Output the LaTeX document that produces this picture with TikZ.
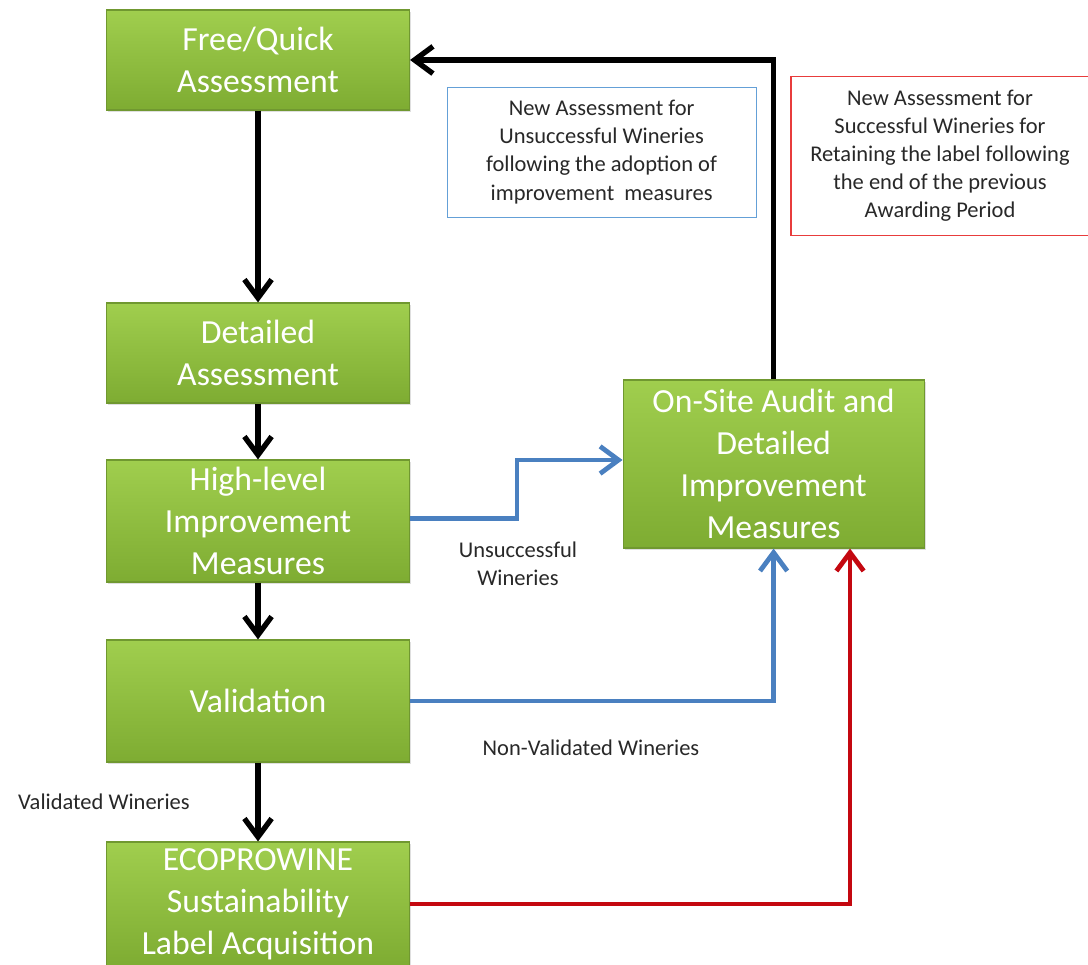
\documentclass[tikz,border=0pt]{standalone}
\usepackage{fontspec}
\setmainfont{Carlito}
\usepackage{xcolor}
\usepackage{tikz}
\usetikzlibrary{arrows.meta,positioning,calc,shadows}
\definecolor{ewtop}{RGB}{160,206,78}
\definecolor{ewbot}{RGB}{126,172,50}
\definecolor{ewedge}{RGB}{112,152,48}
\definecolor{ewblue}{RGB}{74,128,192}
\definecolor{ewred}{RGB}{196,8,16}
\definecolor{ewnoteblue}{RGB}{100,160,215}
\definecolor{ewnotered}{RGB}{232,60,60}
\definecolor{ewtext}{RGB}{40,40,40}
\tikzset{
  stage/.style={rectangle, draw=ewedge, thick, top color=ewtop, bottom color=ewbot, text=white, align=center, inner sep=0pt, minimum width=7.575cm, font=\fontsize{24}{30}\selectfont, drop shadow={opacity=0.25, shadow xshift=1.2pt, shadow yshift=-1.2pt}},
  note/.style={rectangle, fill=white, align=center, inner sep=0pt, text=ewtext, font=\fontsize{16}{20}\selectfont},
  flowlabel/.style={align=center, text=ewtext, font=\fontsize{16}{20}\selectfont},
  arrow/.style={-{Straight Barb[length=4.6mm,width=6.8mm]}, line width=3.8pt, draw=black},
  bluearrow/.style={-{Straight Barb[length=4.6mm,width=6.8mm]}, line width=3.4pt, draw=ewblue},
  redarrow/.style={-{Straight Barb[length=4.6mm,width=6.8mm]}, line width=3.4pt, draw=ewred}
}
\begin{document}
\begin{tikzpicture}
\useasboundingbox[fill=white] (0,0) rectangle (27.2,24.1);
% process boxes
\node[stage, minimum height=2.5cm] (quick) at (6.45,22.6) {Free/Quick\\Assessment};
\node[stage, minimum height=2.5cm] (detailed) at (6.45,15.275) {Detailed\\Assessment};
\node[stage, minimum height=3.05cm] (highlevel) at (6.45,11.075) {High-level\\Improvement\\Measures};
\node[stage, minimum height=3.05cm] (validation) at (6.45,6.575) {Validation};
\node[stage, minimum height=3.1cm] (label) at (6.45,1.5) {ECOPROWINE\\Sustainability\\Label Acquisition};
\node[stage, minimum width=7.525cm, minimum height=4.2cm] (audit) at (19.34,12.5) {On-Site Audit and\\Detailed\\Improvement\\Measures};
% notes
\node[note, draw=ewnoteblue, minimum width=7.725cm, minimum height=3.25cm] (bluenote) at (15.04,20.3) {New Assessment for\\Unsuccessful Wineries\\following the adoption of\\improvement~ measures};
\node[note, draw=ewnotered, thick, minimum width=7.45cm, minimum height=3.975cm] (rednote) at (23.5,20.21) {New Assessment for\\Successful Wineries for\\Retaining the label following\\the end of the previous\\Awarding Period};
% flow labels
\node[flowlabel] (unsucc) at (12.95,10.0) {Unsuccessful\\Wineries};
\node[flowlabel] (nonvalid) at (14.775,5.4) {Non-Validated Wineries};
\node[flowlabel] (valid) at (2.6,4.05) {Validated Wineries};
% connectors
\draw[arrow] (quick) -- (detailed);
\draw[arrow] (detailed) -- (highlevel);
\draw[arrow] (highlevel) -- (validation);
\draw[arrow] (validation) -- (label);
\draw[arrow] (audit.north) |- (quick.east);
\draw[bluearrow] ([yshift=0.07cm]highlevel.east) -- ++(2.675,0) |- ([yshift=0.1cm]audit.west);
\draw[bluearrow] (validation.east) -| (audit.south);
\coordinate (auditred) at ([xshift=1.91cm]audit.south);
\draw[redarrow] (label.east) -| (auditred);
\end{tikzpicture}
\end{document}
